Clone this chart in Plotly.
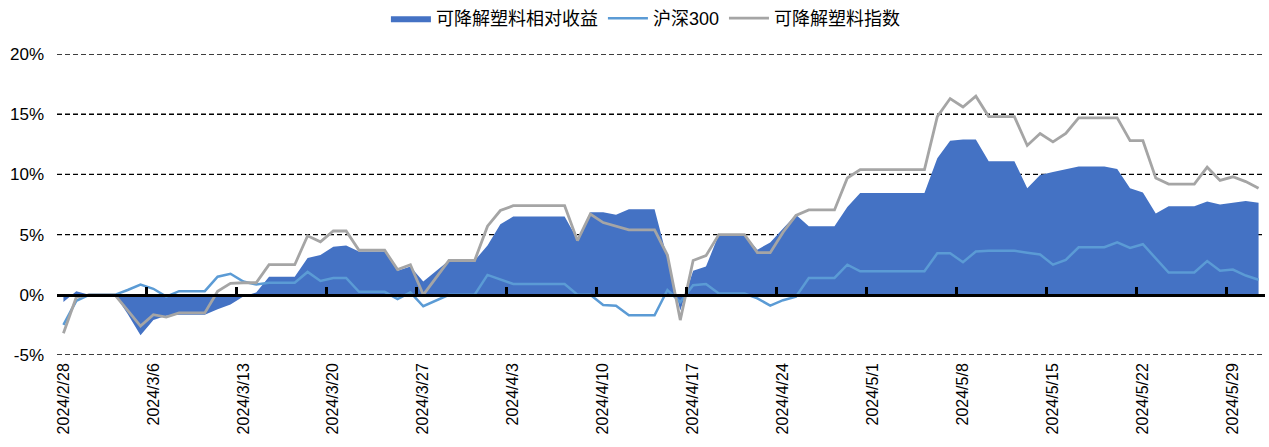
import pandas as pd
import plotly.graph_objects as go

dates = pd.date_range("2024-02-28", "2024-05-31", freq="D")

index_pct = [
    -3.2, -0.2, 0, 0, 0, -1.3, -2.6, -1.65, -1.85, -1.5,
    -1.5, -1.5, 0.3, 0.95, 1.0, 1.0, 2.5, 2.5, 2.5, 4.9,
    4.4, 5.3, 5.3, 3.7, 3.7, 3.7, 2.1, 2.5, 0.0, 1.4,
    2.85, 2.85, 2.85, 5.7, 7.0, 7.4, 7.4, 7.4, 7.4, 7.4,
    4.5, 6.7, 6.0, 5.7, 5.4, 5.4, 5.4, 3.3, -2.1, 2.85,
    3.25, 5.0, 5.0, 5.0, 3.5, 3.5, 5.2, 6.6, 7.05, 7.05,
    7.05, 9.7, 10.4, 10.4, 10.4, 10.4, 10.4, 10.4, 14.8, 16.3,
    15.6, 16.5, 14.8, 14.8, 14.8, 12.4, 13.4, 12.7, 13.4, 14.7,
    14.7, 14.7, 14.7, 12.8, 12.8, 9.7, 9.2, 9.2, 9.2, 10.6,
    9.5, 9.8, 9.4, 8.85,
]

hs300_pct = [
    -2.5, -0.5, 0, 0, 0, 0.4, 0.85, 0.5, -0.15, 0.3,
    0.3, 0.3, 1.5, 1.75, 1.1, 0.85, 1.0, 1.0, 1.0, 1.9,
    1.15, 1.4, 1.4, 0.25, 0.25, 0.25, -0.35, 0.2, -0.95, -0.5,
    0.0, 0.0, 0.0, 1.65, 1.25, 0.9, 0.9, 0.9, 0.9, 0.9,
    0.0, 0.0, -0.85, -0.9, -1.7, -1.7, -1.7, 0.4, -0.6, 0.8,
    0.9, 0.1, 0.1, 0.1, -0.3, -0.9, -0.45, -0.15, 1.4, 1.4,
    1.4, 2.5, 1.95, 1.95, 1.95, 1.95, 1.95, 1.95, 3.45, 3.45,
    2.7, 3.6, 3.65, 3.65, 3.65, 3.5, 3.35, 2.5, 2.9, 3.95,
    3.95, 3.95, 4.35, 3.9, 4.2, 3.05, 1.85, 1.85, 1.85, 2.8,
    2.0, 2.1, 1.6, 1.25,
]

relative_pct = [
    -0.6, 0.3, 0, 0, 0, -1.6, -3.35, -2.1, -1.75, -1.65,
    -1.65, -1.65, -1.2, -0.8, -0.15, 0.2, 1.5, 1.5, 1.5, 3.05,
    3.3, 4.0, 4.1, 3.6, 3.6, 3.6, 2.0, 2.35, 1.1, 1.95,
    2.85, 2.85, 2.85, 4.1, 5.85, 6.5, 6.5, 6.5, 6.5, 6.5,
    4.6, 6.85, 6.85, 6.65, 7.1, 7.1, 7.1, 3.0, -1.3, 2.0,
    2.35, 5.0, 5.0, 5.0, 3.75, 4.35, 5.5, 6.65, 5.7, 5.7,
    5.7, 7.3, 8.45, 8.45, 8.45, 8.45, 8.45, 8.45, 11.35, 12.8,
    12.9, 12.9, 11.1, 11.1, 11.1, 8.85, 9.95, 10.2, 10.45, 10.65,
    10.65, 10.65, 10.45, 8.85, 8.5, 6.75, 7.35, 7.35, 7.35, 7.75,
    7.5, 7.65, 7.8, 7.65,
]

names = ["可降解塑料相对收益", "沪深300", "可降解塑料指数"]
tick_dates = pd.date_range("2024-02-28", "2024-05-31", freq="7D")
y_ticks = [-5, 0, 5, 10, 15, 20]
y_ticktext = [f"{v}%" for v in y_ticks]

FONT = "Liberation Sans, Arial, Noto Sans CJK SC, sans-serif"

fig = go.Figure()
fig.add_trace(go.Scatter(
    x=dates, y=relative_pct, name=names[0], mode="lines",
    line=dict(width=0, color="#4472C4"), fill="tozeroy", fillcolor="#4472C4",
))
fig.add_trace(go.Scatter(
    x=dates, y=hs300_pct, name=names[1], mode="lines",
    line=dict(width=2.5, color="#5B9BD5"),
))
fig.add_trace(go.Scatter(
    x=dates, y=index_pct, name=names[2], mode="lines",
    line=dict(width=2.8, color="#A5A5A5"),
))
# invisible trace carrying the zero-line axis with tick marks
fig.add_trace(go.Scatter(
    x=[dates[0]], y=[0], xaxis="x2", mode="markers",
    marker=dict(opacity=0), showlegend=False, hoverinfo="skip",
))

# dashed horizontal gridlines (below the data)
for v in y_ticks:
    if v == 0:
        continue
    fig.add_shape(
        type="line", xref="paper", yref="y", x0=0, x1=1, y0=v, y1=v,
        line=dict(color="black", width=1.4, dash="5px,3px"), layer="below",
    )

x_range = [pd.Timestamp("2024-02-27 12:00"), pd.Timestamp("2024-05-31 12:00")]

fig.update_layout(
    width=1269, height=447,
    margin=dict(l=57, r=4, t=54, b=92),
    paper_bgcolor="white", plot_bgcolor="white",
    font=dict(family=FONT, size=16, color="#000000"),
    showlegend=True,
    legend=dict(
        orientation="h", xref="container", yref="container",
        x=0.509, xanchor="center", y=1.0, yanchor="top",
        font=dict(size=18, family=FONT),
        itemwidth=40, tracegroupgap=0,
    ),
    xaxis=dict(
        type="date", range=x_range,
        tickvals=tick_dates, tickformat="%Y/%-m/%-d",
        tickangle=-90, showgrid=False, showline=False,
        ticks="", zeroline=False, ticklabelstandoff=4,
        tickfont=dict(size=16), automargin=False,
    ),
    xaxis2=dict(
        type="date", range=x_range, overlaying="x",
        anchor="free", position=0.2, side="bottom",
        showline=True, linecolor="black", linewidth=2.5,
        ticks="inside", ticklen=7, tickwidth=2.5, tickcolor="black",
        tick0="2024-02-27 12:00", dtick=7 * 86400000,
        showticklabels=False, showgrid=False, zeroline=False,
    ),
    yaxis=dict(
        range=[-5, 20], tickmode="array", tickvals=y_ticks, ticktext=y_ticktext,
        showgrid=False, zeroline=False, showline=False,
        ticklabelstandoff=12, tickfont=dict(size=17), automargin=False,
    ),
)

fig.write_html(
    "out.html",
    config={"displayModeBar": False},
    post_script="document.body.style.margin='0';",
)
